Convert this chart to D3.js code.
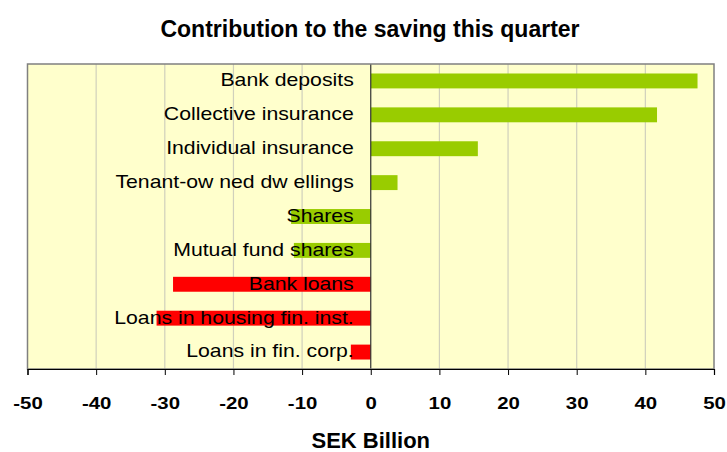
<!DOCTYPE html>
<html>
<head>
<meta charset="utf-8">
<script src="https://cdn.jsdelivr.net/npm/d3@7"></script>
<style>
  body { margin: 0; background: #fff; }
  text { font-family: "Liberation Sans", Arial, sans-serif; }
</style>
</head>
<body>
<svg id="chart" width="727" height="452"></svg>
<script>
const categories = [
    "Bank deposits",
    "Collective insurance",
    "Individual insurance",
    "Tenant-ow ned dw ellings",
    "Shares",
    "Mutual fund shares",
    "Bank loans",
    "Loans in housing fin. inst.",
    "Loans in fin. corp."
];
const values = [47.6, 41.7, 15.6, 3.9, -11.6, -11.2, -28.8, -31.2, -2.9];
const barColors = ["#99CC00", "#99CC00", "#99CC00", "#99CC00", "#99CC00", "#99CC00", "#FF0000", "#FF0000", "#FF0000"];
const xTicks = [-50, -40, -30, -20, -10, 0, 10, 20, 30, 40, 50];

const data = categories.map((c, i) => ({ name: c, value: values[i], color: barColors[i] }));

const svgCanvas = d3.select("#chart");

const padding = { top: 64, right: 13, bottom: 83, left: 27.5 };
const chartArea = {
    width: 727 - padding.left - padding.right,
    height: 452 - padding.top - padding.bottom
};

const g = svgCanvas.append("g")
    .attr("transform", `translate(${padding.left},${padding.top})`);

// X scale
const xScale = d3.scaleLinear()
    .domain([-50, 50])
    .range([0, chartArea.width]);

// Y scale
const yScale = d3.scaleBand()
    .domain(categories)
    .range([0, chartArea.height])
    .paddingInner(0.56)
    .paddingOuter(0.28);

// Plot background
g.append("rect")
    .attr("width", chartArea.width)
    .attr("height", chartArea.height)
    .attr("fill", "#FFFFCC");

// Grid
g.append("g")
    .selectAll("line")
    .data(xTicks.filter(t => t !== -50 && t !== 50 && t !== 0))
    .enter().append("line")
    .attr("x1", d => xScale(d))
    .attr("x2", d => xScale(d))
    .attr("y1", 0)
    .attr("y2", chartArea.height)
    .attr("stroke", "#D0D0BC")
    .attr("stroke-width", 1.2);

// Bars
g.selectAll("rect.bar")
    .data(data)
    .enter().append("rect")
    .attr("class", "bar")
    .attr("x", d => xScale(Math.min(0, d.value)))
    .attr("width", d => Math.abs(xScale(d.value) - xScale(0)))
    .attr("y", d => yScale(d.name))
    .attr("height", yScale.bandwidth())
    .attr("fill", d => d.color);

// Zero line
g.append("line")
    .attr("x1", xScale(0))
    .attr("x2", xScale(0))
    .attr("y1", 0)
    .attr("y2", chartArea.height)
    .attr("stroke", "#333")
    .attr("stroke-width", 1.2);

// Plot border
g.append("rect")
    .attr("width", chartArea.width)
    .attr("height", chartArea.height)
    .attr("fill", "none")
    .attr("stroke", "#808080")
    .attr("stroke-width", 1.5);

// Category labels, drawn over the bars (the source text is stretched wide)
g.selectAll("text.cat")
    .data(data)
    .enter().append("text")
    .attr("class", "cat")
    .attr("transform", d => `translate(${xScale(0) - 17},${yScale(d.name) + yScale.bandwidth() / 2}) scale(1.18,1)`)
    .attr("dy", "0.3em")
    .attr("text-anchor", "end")
    .attr("font-size", "18px")
    .attr("fill", "#000")
    .text(d => d.name);

// X axis
const xAxis = g.append("g")
    .attr("transform", `translate(0,${chartArea.height})`)
    .call(d3.axisBottom(xScale).tickValues(xTicks).tickSize(6).tickPadding(22).tickFormat(d => String(d)));
xAxis.select(".domain").attr("stroke", "#000").attr("stroke-width", 1.2);
xAxis.selectAll(".tick line").attr("stroke", "#000");
xAxis.selectAll(".tick text")
    .attr("font-size", "17px")
    .attr("font-weight", "bold")
    .attr("fill", "#000")
    .style("font-family", "'Liberation Sans', Arial, sans-serif")
    .attr("transform", "scale(1.2,1)")
    .attr("x", 0);

// Axis title
svgCanvas.append("text")
    .attr("x", padding.left + xScale(0))
    .attr("y", 448)
    .attr("text-anchor", "middle")
    .attr("font-size", "22px")
    .attr("font-weight", "bold")
    .text("SEK Billion");

// Chart title
svgCanvas.append("text")
    .attr("x", 370)
    .attr("y", 37)
    .attr("text-anchor", "middle")
    .attr("font-size", "23px")
    .attr("font-weight", "bold")
    .text("Contribution to the saving this quarter");
</script>
</body>
</html>
